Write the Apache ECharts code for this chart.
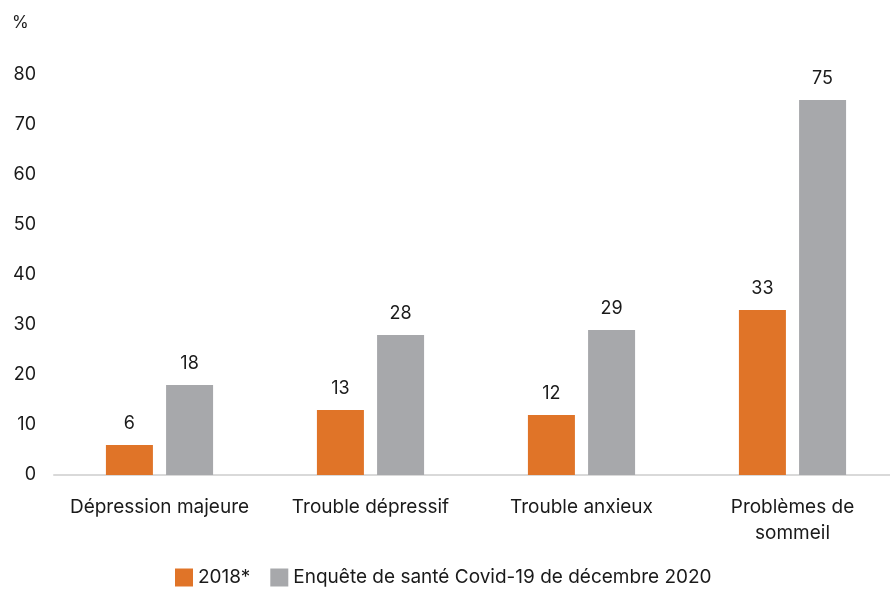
<!DOCTYPE html>
<html>
<head>
<meta charset="utf-8">
<script src="https://cdn.jsdelivr.net/npm/echarts@6/dist/echarts.min.js"></script>
<style>
html,body{margin:0;padding:0;background:#fff;overflow:hidden;}
#chart{width:898px;height:589px;}
</style>
</head>
<body>
<div id="chart"></div>
<script>
const categories = ['Dépression majeure', 'Trouble dépressif', 'Trouble anxieux', 'Problèmes de\nsommeil'];
const series2018 = [6, 13, 12, 33];
const series2020 = [18, 28, 29, 75];
const seriesNames = ['2018*', 'Enquête de santé Covid-19 de décembre 2020'];
const yTicks = { min: 0, max: 80, interval: 10 };

const FONT = 'Inter, "Open Sans", sans-serif';
const chart = echarts.init(document.getElementById('chart'), null, { renderer: 'canvas' });

const labelStyle = { show: true, position: 'top', distance: 12, color: '#1a1a1a', fontSize: 18, fontFamily: FONT };

chart.setOption({
  animation: false,
  textStyle: { fontFamily: FONT },
  grid: { left: 54, right: 0, top: 75, bottom: 114 },
  legend: {
    bottom: -3,
    left: 170,
    itemWidth: 18,
    itemHeight: 18,
    itemGap: 20,
    icon: 'rect',
    textStyle: { fontSize: 19, color: '#1a1a1a', fontFamily: FONT },
    data: seriesNames
  },
  xAxis: {
    type: 'category',
    data: categories,
    axisLine: { lineStyle: { color: '#d9d9d9', width: 2 } },
    axisTick: { show: false },
    axisLabel: { interval: 0, color: '#1a1a1a', fontSize: 19, margin: 19, lineHeight: 26, fontFamily: FONT }
  },
  yAxis: {
    type: 'value',
    min: yTicks.min,
    max: yTicks.max,
    interval: yTicks.interval,
    name: '%',
    nameLocation: 'end',
    nameGap: 0,
    nameTextStyle: { color: '#1a1a1a', fontSize: 17, align: 'left', padding: [0, 0, 44, -42], fontFamily: FONT },
    splitLine: { show: false },
    axisLine: { show: false },
    axisTick: { show: false },
    axisLabel: { color: '#1a1a1a', fontSize: 18, margin: 18, fontFamily: FONT }
  },
  series: [
    {
      name: seriesNames[0],
      type: 'bar',
      data: series2018,
      barWidth: 47,
      barGap: '28%',
      itemStyle: { color: '#E07428' },
      label: labelStyle
    },
    {
      name: seriesNames[1],
      type: 'bar',
      data: series2020,
      barWidth: 47,
      itemStyle: { color: '#A7A8AB' },
      label: labelStyle
    }
  ]
});
</script>
</body>
</html>
